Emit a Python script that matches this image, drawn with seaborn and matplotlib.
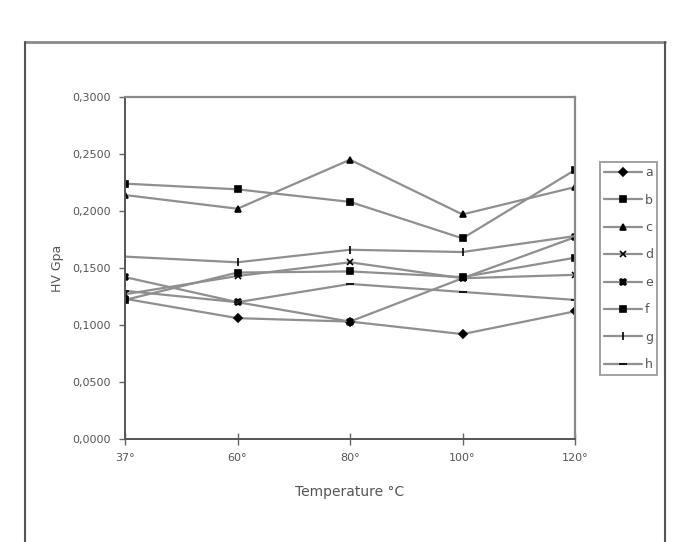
import matplotlib
matplotlib.use("Agg")
import matplotlib.pyplot as plt
from matplotlib.lines import Line2D
from matplotlib.ticker import FuncFormatter
import seaborn as sns
import pandas as pd

# Temperaturas (categorias) y dureza HV por serie
temperatures = ['37°', '60°', '80°', '100°', '120°']
series_names = ['a', 'b', 'c', 'd', 'e', 'f', 'g', 'h']
hv_a = [0.123, 0.106, 0.103, 0.092, 0.112]
hv_b = [0.224, 0.219, 0.208, 0.176, 0.236]
hv_c = [0.214, 0.202, 0.245, 0.197, 0.221]
hv_d = [0.127, 0.143, 0.155, 0.141, 0.144]
hv_e = [0.142, 0.120, 0.103, 0.141, 0.177]
hv_f = [0.122, 0.146, 0.147, 0.142, 0.159]
hv_g = [0.160, 0.155, 0.166, 0.164, 0.178]
hv_h = [0.130, 0.120, 0.136, 0.129, 0.122]
all_values = [hv_a, hv_b, hv_c, hv_d, hv_e, hv_f, hv_g, hv_h]

markers = {'a': 'D', 'b': 's', 'c': '^', 'd': 'x', 'e': 'X',
           'f': 's', 'g': '|', 'h': '_'}
msizes = {'a': 4, 'b': 5, 'c': 5, 'd': 5, 'e': 5, 'f': 5, 'g': 6, 'h': 6}

rows = []
for name, vals in zip(series_names, all_values):
    for i, (t, v) in enumerate(zip(temperatures, vals)):
        rows.append({'serie': name, 'pos': i, 'temp': t, 'hv': v})
df = pd.DataFrame(rows)

sns.set_style("white")
plt.rcParams['font.family'] = ['DejaVu Sans']

fig = plt.figure(figsize=(6.85, 5.42), dpi=100)
ax = fig.add_axes([125 / 685, 1 - 439 / 542, 450 / 685, 342 / 542])

line_col = '#8f8f8f'
handles = []
for name in series_names:
    sub = df[df['serie'] == name]
    sns.lineplot(data=sub, x='pos', y='hv', ax=ax, color=line_col, linewidth=1.6,
                 marker=markers[name], markersize=msizes[name],
                 markerfacecolor='black', markeredgecolor='black', markeredgewidth=1.2,
                 legend=False)
    handles.append(Line2D([], [], color=line_col, linewidth=1.6, marker=markers[name],
                          markersize=msizes[name], markerfacecolor='black',
                          markeredgecolor='black', markeredgewidth=1.2, label=name))

ax.set_xlim(0, 4)
ax.set_ylim(0, 0.3)
ax.set_xticks(range(len(temperatures)))
ax.set_xticklabels(temperatures)
ax.set_yticks([0, 0.05, 0.1, 0.15, 0.2, 0.25, 0.3])
ax.yaxis.set_major_formatter(FuncFormatter(lambda v, p: f'{v:.4f}'.replace('.', ',')))
ax.tick_params(axis='y', direction='out', length=4, width=1, color='#666666',
               labelsize=8, labelcolor='#555555', left=True, pad=6)
ax.tick_params(axis='x', direction='inout', length=8, width=1, color='#666666',
               labelsize=8, labelcolor='#555555', bottom=True, pad=6)

for side in ['left', 'bottom']:
    ax.spines[side].set_color('#555555')
    ax.spines[side].set_linewidth(1.4)
for side in ['top', 'right']:
    ax.spines[side].set_color('#8a8a8a')
    ax.spines[side].set_linewidth(1.6)

ax.set_xlabel('Temperature °C', fontsize=10, color='#555555', labelpad=16)
ax.set_ylabel('HV Gpa', fontsize=9, color='#555555', labelpad=6)

leg = fig.legend(handles=handles, loc='upper left',
                 bbox_to_anchor=(600 / 685, 1 - 162 / 542),
                 frameon=True, fancybox=False, handlelength=3.0,
                 fontsize=9, labelspacing=1.15, borderpad=0.35,
                 handletextpad=0.25, borderaxespad=0)
leg.get_frame().set_edgecolor('#8a8a8a')
leg.get_frame().set_linewidth(1.4)
for txt in leg.get_texts():
    txt.set_color('#555555')

# Marco exterior del grafico
frame_col = '#8a8a8a'
fig.add_artist(Line2D([25 / 685, 665 / 685], [1 - 42 / 542, 1 - 42 / 542],
                      transform=fig.transFigure, color=frame_col, linewidth=2))
fig.add_artist(Line2D([25 / 685, 25 / 685], [0, 1 - 42 / 542],
                      transform=fig.transFigure, color='#555555', linewidth=1.5))
fig.add_artist(Line2D([665 / 685, 665 / 685], [0, 1 - 42 / 542],
                      transform=fig.transFigure, color='#555555', linewidth=1.5))

fig.savefig('out.png', dpi=100, facecolor='white')
